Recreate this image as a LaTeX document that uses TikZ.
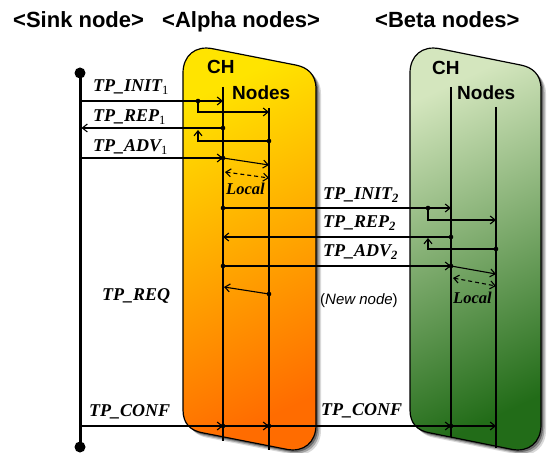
\documentclass[tikz,border=0pt]{standalone}
\usepackage{fontspec}
\setmainfont{Liberation Serif}
\setsansfont{Liberation Sans}
\usetikzlibrary{arrows.meta}
\definecolor{alphaA}{RGB}{255,228,0}
\definecolor{alphaM}{RGB}{255,185,0}
\definecolor{alphaB}{RGB}{255,108,0}
\definecolor{betaA}{RGB}{212,230,190}
\definecolor{betaM}{RGB}{140,184,100}
\definecolor{betaB}{RGB}{34,108,24}
\begin{document}
\begin{tikzpicture}[x=1pt,y=1pt,
  msg/.style={line width=1.1pt, -{Straight Barb[length=5pt,width=8pt]}},
  dmsg/.style={line width=1.1pt, dash pattern=on 4pt off 3pt, {Straight Barb[length=5pt,width=8pt]}-{Straight Barb[length=5pt,width=8pt]}},
  life/.style={line width=1.1pt},
  dot/.style={circle, fill=black, inner sep=0pt, minimum size=4.6pt},
  hdr/.style={font=\sffamily\bfseries\fontsize{22}{25}\selectfont, inner sep=0pt, anchor=base west},
  grp/.style={font=\sffamily\bfseries\fontsize{19}{22}\selectfont, inner sep=0pt, anchor=base west},
  tp/.style={font=\bfseries\itshape\fontsize{18}{21}\selectfont, inner sep=0pt, anchor=base west},
  loc/.style={font=\bfseries\itshape\fontsize{16.5}{19}\selectfont, inner sep=0pt, anchor=base west},
  nn/.style={font=\sffamily\fontsize{15}{18}\selectfont, inner sep=0pt, anchor=base west},
]
\useasboundingbox (0,0) rectangle (548,452);

% group shapes with shadows
\foreach \xl/\xr/\ca/\cm/\cb in {183/316/alphaA/alphaM/alphaB, 410/541/betaA/betaM/betaB}{
  \foreach \s/\o in {5/0.15, 3.5/0.25, 2/0.35}{
    \fill[black, opacity=\o, shift={(\s,-\s)}]
      (\xl,200) -- (\xl,379) .. controls (\xl,396) and ({\xl+12},407) .. ({\xl+30},403.2)
      -- ({\xr-20},386.9) .. controls ({\xr-9},384.7) and (\xr,378) .. (\xr,363)
      -- (\xr,27) .. controls (\xr,10) and ({\xr-12},-1) .. ({\xr-30},2.8)
      -- ({\xl+19},19.3) .. controls ({\xl+8},21.4) and (\xl,28) .. (\xl,42) -- cycle;
  }
  \path[draw=black, line width=1.2pt, top color=\ca, middle color=\cm, bottom color=\cb, shading angle=25]
      (\xl,200) -- (\xl,379) .. controls (\xl,396) and ({\xl+12},407) .. ({\xl+30},403.2)
      -- ({\xr-20},386.9) .. controls ({\xr-9},384.7) and (\xr,378) .. (\xr,363)
      -- (\xr,27) .. controls (\xr,10) and ({\xr-12},-1) .. ({\xr-30},2.8)
      -- ({\xl+19},19.3) .. controls ({\xl+8},21.4) and (\xl,28) .. (\xl,42) -- cycle;
}

% headers
\node[hdr] (hSink) at (13,424) {<Sink node>};
\node[hdr] (hAlpha) at (162,424) {<Alpha nodes>};
\node[hdr] (hBeta) at (375,424) {<Beta nodes>};
\node[grp] (aCHl) at (207,378) {CH};
\node[grp] (aNl) at (232,352) {Nodes};
\node[grp] (bCHl) at (432,377) {CH};
\node[grp] (bNl) at (457,352) {Nodes};

% lifelines
\coordinate (sinkT) at (80,379); \coordinate (sinkB) at (80,5);
\coordinate (aCHt) at (223,365); \coordinate (aCHb) at (223,11);
\coordinate (aNt) at (269,344);  \coordinate (aNb) at (269,2);
\coordinate (bCHt) at (451,365); \coordinate (bCHb) at (451,15);
\coordinate (bNt) at (496,345);  \coordinate (bNb) at (496,4);
\draw[line width=3pt] (sinkT) -- (sinkB);
\fill (sinkT) circle (5.5); \fill (sinkB) circle (5.5);
\draw[life] (aCHt) -- (aCHb);
\draw[life] (aNt) -- (aNb);
\draw[life] (bCHt) -- (bCHb);
\draw[life] (bNt) -- (bNb);

% TP_INIT1
\coordinate (s1) at (81.5,351); \coordinate (a1) at (223,351);
\coordinate (k1) at (198,351); \coordinate (k1b) at (198,340); \coordinate (n1) at (269,340);
\draw[msg] (s1) -- (a1);
\draw[msg] (k1) -- (k1b) -- (n1);
\node[dot] (d1) at (k1) {};
\node[tp] (lInit1) at (93,360) {TP\_INIT\textsubscript{\normalfont 1}};

% TP_REP1
\coordinate (a2) at (223,324); \coordinate (s2) at (81.5,324);
\coordinate (n2) at (269,311); \coordinate (k2) at (198,311); \coordinate (k2t) at (198,322);
\draw[msg] (a2) -- (s2);
\draw[msg] (n2) -- (k2) -- (k2t);
\node[dot] (d2a) at (a2) {}; \node[dot] (d2n) at (n2) {};
\node[tp] (lRep1) at (93,330) {TP\_REP\textsubscript{\normalfont 1}};

% TP_ADV1
\coordinate (s3) at (81.5,294); \coordinate (a3) at (223,294); \coordinate (n3) at (269,287);
\draw[msg] (s3) -- (a3);
\draw[msg] (a3) -- (n3);
\node[dot] (d3) at (a3) {};
\node[tp] (lAdv1) at (93,300) {TP\_ADV\textsubscript{\normalfont 1}};
\coordinate (l1a) at (225,280); \coordinate (l1b) at (269,274);
\draw[dmsg] (l1a) -- (l1b);
\node[loc] (lLoc1) at (226,257) {Local};

% TP_INIT2
\coordinate (a4) at (223,244); \coordinate (b4) at (451,244);
\coordinate (k4) at (428,244); \coordinate (k4b) at (428,232); \coordinate (m4) at (496,232);
\draw[msg] (a4) -- (b4);
\draw[msg] (k4) -- (k4b) -- (m4);
\node[dot] (d4a) at (a4) {}; \node[dot] (d4k) at (k4) {};
\node[tp] (lInit2) at (323,252) {TP\_INIT\textsubscript{2}};

% TP_REP2
\coordinate (b5) at (451,215); \coordinate (a5) at (223,215);
\coordinate (m5) at (496,203); \coordinate (k5) at (428,203); \coordinate (k5t) at (428,214);
\draw[msg] (b5) -- (a5);
\draw[msg] (m5) -- (k5) -- (k5t);
\node[dot] (d5b) at (b5) {}; \node[dot] (d5m) at (m5) {};
\node[tp] (lRep2) at (323,224) {TP\_REP\textsubscript{2}};

% TP_ADV2
\coordinate (a6) at (223,186); \coordinate (b6) at (451,186); \coordinate (m6) at (496,178);
\draw[msg] (a6) -- (b6);
\draw[msg] (b6) -- (m6);
\node[dot] (d6a) at (a6) {}; \node[dot] (d6b) at (b6) {};
\node[tp] (lAdv2) at (323,195) {TP\_ADV\textsubscript{2}};
\coordinate (l2a) at (453,174); \coordinate (l2b) at (496,166);
\draw[dmsg] (l2a) -- (l2b);
\node[loc] (lLoc2) at (453,148) {Local};

% (New node)
\node[nn] (lNew) at (320,147) {(\textit{New node})};

% TP_REQ
\coordinate (n7) at (269,158); \coordinate (a7) at (224,165);
\draw[msg] (n7) -- (a7);
\node[dot] (d7) at (n7) {};
\node[tp] (lReq) at (102,151) {TP\_REQ};

% TP_CONF
\coordinate (s8) at (80,26); \coordinate (a8) at (223,26); \coordinate (n8) at (269,26);
\coordinate (b8) at (451,26); \coordinate (m8) at (496,26);
\draw[msg] (s8) -- (a8);
\draw[msg] (a8) -- (n8);
\draw[msg] (n8) -- (b8);
\draw[msg] (b8) -- (m8);
\node[dot] (d8a) at (a8) {}; \node[dot] (d8n) at (n8) {}; \node[dot] (d8b) at (b8) {};
\node[tp] (lConf1) at (89,35) {TP\_CONF};
\node[tp] (lConf2) at (321,37) {TP\_CONF};
\end{tikzpicture}
\end{document}
